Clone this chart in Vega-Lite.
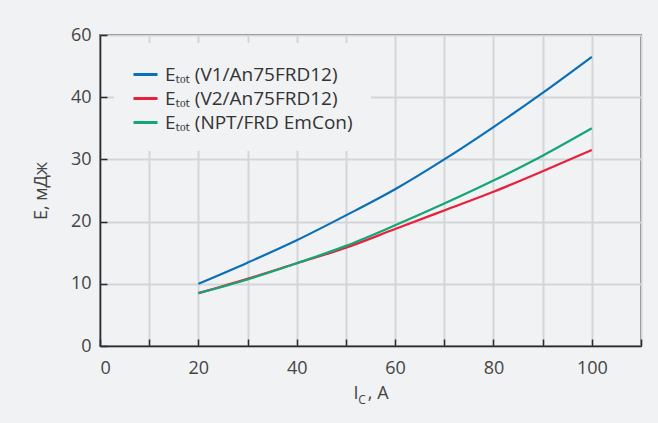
{
  "$schema": "https://vega.github.io/schema/vega-lite/v6.json",
  "width": 541,
  "height": 311,
  "autosize": "none",
  "padding": {"left": 100, "top": 35, "right": 17, "bottom": 77},
  "background": "#f1f2f4",
  "config": {
    "font": "Open Sans",
    "view": {"stroke": "#3a3a3a", "strokeWidth": 1.5, "fill": "#f1f2f4"},
    "axis": {
      "grid": true,
      "domainColor": "#2b2b2b",
      "domainWidth": 1.5,
      "tickColor": "#2b2b2b",
      "tickWidth": 1.5,
      "tickSize": -7,
      "gridColor": "#d4d5d8",
      "gridWidth": 2,
      "labelFontSize": 18,
      "labelColor": "#444444",
      "titleFontSize": 18,
      "titleFontWeight": "normal",
      "titleColor": "#444444"
    },
    "legend": {
      "labelFontSize": 19,
      "labelColor": "#333333",
      "labelLimit": 400
    }
  },
  "data": {
    "values": [
      {"I": 20, "E": 10.0, "s": "Eₜₒₜ (V1/An75FRD12)"},
      {"I": 30, "E": 13.4, "s": "Eₜₒₜ (V1/An75FRD12)"},
      {"I": 40, "E": 17.0, "s": "Eₜₒₜ (V1/An75FRD12)"},
      {"I": 50, "E": 21.0, "s": "Eₜₒₜ (V1/An75FRD12)"},
      {"I": 60, "E": 25.2, "s": "Eₜₒₜ (V1/An75FRD12)"},
      {"I": 70, "E": 30.0, "s": "Eₜₒₜ (V1/An75FRD12)"},
      {"I": 80, "E": 35.2, "s": "Eₜₒₜ (V1/An75FRD12)"},
      {"I": 90, "E": 40.7, "s": "Eₜₒₜ (V1/An75FRD12)"},
      {"I": 100, "E": 46.5, "s": "Eₜₒₜ (V1/An75FRD12)"},
      {"I": 20, "E": 8.5, "s": "Eₜₒₜ (V2/An75FRD12)"},
      {"I": 30, "E": 10.8, "s": "Eₜₒₜ (V2/An75FRD12)"},
      {"I": 40, "E": 13.3, "s": "Eₜₒₜ (V2/An75FRD12)"},
      {"I": 50, "E": 15.8, "s": "Eₜₒₜ (V2/An75FRD12)"},
      {"I": 60, "E": 18.8, "s": "Eₜₒₜ (V2/An75FRD12)"},
      {"I": 70, "E": 21.8, "s": "Eₜₒₜ (V2/An75FRD12)"},
      {"I": 80, "E": 24.8, "s": "Eₜₒₜ (V2/An75FRD12)"},
      {"I": 90, "E": 28.1, "s": "Eₜₒₜ (V2/An75FRD12)"},
      {"I": 100, "E": 31.5, "s": "Eₜₒₜ (V2/An75FRD12)"},
      {"I": 20, "E": 8.5, "s": "Eₜₒₜ (NPT/FRD EmCon)"},
      {"I": 30, "E": 10.7, "s": "Eₜₒₜ (NPT/FRD EmCon)"},
      {"I": 40, "E": 13.3, "s": "Eₜₒₜ (NPT/FRD EmCon)"},
      {"I": 50, "E": 16.1, "s": "Eₜₒₜ (NPT/FRD EmCon)"},
      {"I": 60, "E": 19.4, "s": "Eₜₒₜ (NPT/FRD EmCon)"},
      {"I": 70, "E": 22.9, "s": "Eₜₒₜ (NPT/FRD EmCon)"},
      {"I": 80, "E": 26.6, "s": "Eₜₒₜ (NPT/FRD EmCon)"},
      {"I": 90, "E": 30.6, "s": "Eₜₒₜ (NPT/FRD EmCon)"},
      {"I": 100, "E": 35.0, "s": "Eₜₒₜ (NPT/FRD EmCon)"}
    ]
  },
  "layer": [
    {
      "mark": {"type": "line", "strokeWidth": 2.2, "interpolate": "monotone"},
      "encoding": {
        "x": {
          "field": "I", "type": "quantitative",
          "scale": {"domain": [0, 110], "nice": false},
          "axis": {
            "grid": true,
            "values": [0, 10, 20, 30, 40, 50, 60, 70, 80, 90, 100, 110],
            "labelExpr": "datum.value % 20 == 0 && datum.value <= 100 ? datum.label : ''",
            "labelPadding": 20,
            "title": "I\u00a0\u00a0, A",
            "titlePadding": 7
          }
        },
        "y": {
          "field": "E", "type": "quantitative",
          "scale": {"domain": [0, 50], "nice": false},
          "axis": {
            "grid": true,
            "values": [0, 5, 10, 15, 20, 25, 30, 35, 40, 45, 50],
            "labelExpr": "datum.value == 50 ? '60' : (datum.value % 10 == 0 ? datum.label : '')",
            "labelPadding": 16,
            "title": "E, мДж",
            "titlePadding": 20
          }
        },
        "color": {
          "field": "s", "type": "nominal", "sort": null,
          "scale": {
            "domain": ["Eₜₒₜ (V1/An75FRD12)", "Eₜₒₜ (V2/An75FRD12)", "Eₜₒₜ (NPT/FRD EmCon)"],
            "range": ["#0b6fb8", "#e8213b", "#14a676"]
          },
          "legend": {
            "title": null,
            "orient": "none",
            "legendX": 14,
            "legendY": 8,
            "padding": 18,
            "fillColor": "#f1f2f4",
            "symbolType": "stroke",
            "symbolSize": 576,
            "symbolStrokeWidth": 3,
            "rowPadding": 0,
            "labelOffset": 6
          }
        }
      }
    },
    {
      "data": {"values": [{"label": "C"}]},
      "mark": {"type": "text", "fontSize": 12, "color": "#444444", "baseline": "alphabetic", "align": "center", "dy": 58},
      "encoding": {
        "text": {"field": "label"},
        "x": {"datum": 53.3, "type": "quantitative"},
        "y": {"datum": 0, "type": "quantitative"}
      }
    }
  ]
}
